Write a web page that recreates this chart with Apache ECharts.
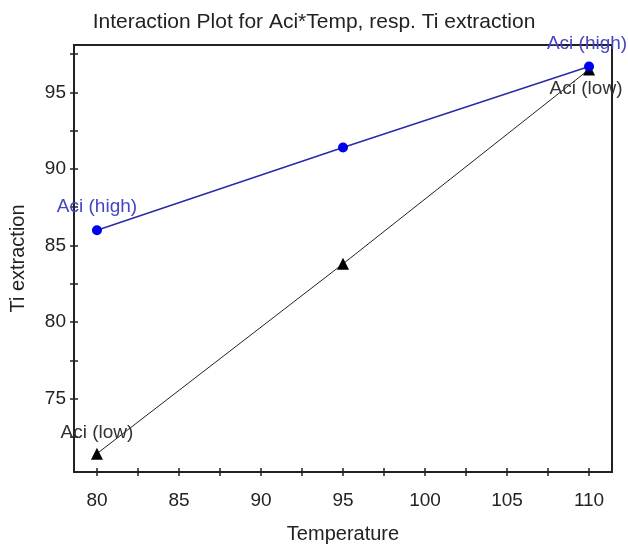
<!DOCTYPE html>
<html>
<head>
<meta charset="utf-8">
<script src="https://cdn.jsdelivr.net/npm/echarts@6/dist/echarts.min.js"></script>
<style>
  html, body { margin: 0; padding: 0; background: #fff; }
  #chart { width: 628px; height: 548px; }
</style>
</head>
<body>
<div id="chart"></div>
<script>
// Temperature levels (x) and mean Ti extraction for each acid level
const temperatures = [80, 95, 110];
const aciHigh = [86.0, 91.4, 96.7];
const aciLow = [71.4, 83.8, 96.5];

// Axis ticks and labels
const xLabelValues = [80, 85, 90, 95, 100, 105, 110];
const xTickValues = [80, 82.5, 85, 87.5, 90, 92.5, 95, 97.5, 100, 102.5, 105, 107.5, 110];
const yLabelValues = [75, 80, 85, 90, 95];
const yTickValues = [72.5, 75, 77.5, 80, 82.5, 85, 87.5, 90, 92.5, 95, 97.5];

// Text shown next to the end points
const highName = 'Aci (high)';
const lowName = 'Aci (low)';

const FONT = '"Liberation Sans", Arial, sans-serif';
const X_MIN = 78.6, X_MAX = 111.4;
const Y_MIN = 70.2, Y_MAX = 98.1;

function pairs(ys) {
  return temperatures.map((t, i) => [t, ys[i]]);
}

// Label only the end points; offset relative to the marker centre
function endLabels(ys, color, offsets) {
  return pairs(ys).map((p, i) => {
    const off = offsets[i];
    return {
      value: p,
      label: off ? {
        show: true, position: 'inside', offset: off,
        color: color, fontSize: 19, fontFamily: FONT
      } : { show: false }
    };
  });
}

function xAxisDef(tickInside, showLabels) {
  return {
    type: 'value', position: 'bottom', min: X_MIN, max: X_MAX,
    name: showLabels ? 'Temperature' : '',
    nameLocation: 'middle', nameGap: 52,
    nameTextStyle: { fontSize: 20, color: '#222', fontFamily: FONT },
    axisLine: { show: true, onZero: false, lineStyle: { color: '#222', width: 2 } },
    axisTick: { show: true, inside: tickInside, length: 4, customValues: xTickValues,
                lineStyle: { color: '#222', width: 1.5 } },
    axisLabel: { show: showLabels, customValues: xLabelValues, margin: 19,
                 fontSize: 19, color: '#222', fontFamily: FONT },
    splitLine: { show: false }
  };
}

function yAxisDef(tickInside, showLabels) {
  return {
    type: 'value', position: 'left', min: Y_MIN, max: Y_MAX,
    name: showLabels ? 'Ti extraction' : '',
    nameLocation: 'middle', nameGap: 46,
    nameTextStyle: { fontSize: 20, color: '#222', fontFamily: FONT },
    axisLine: { show: true, onZero: false, lineStyle: { color: '#222', width: 2 } },
    axisTick: { show: true, inside: tickInside, length: 4, customValues: yTickValues,
                lineStyle: { color: '#222', width: 1.5 } },
    axisLabel: { show: showLabels, customValues: yLabelValues, margin: 8,
                 fontSize: 19, color: '#222', fontFamily: FONT },
    splitLine: { show: false }
  };
}

const chart = echarts.init(document.getElementById('chart'), null, { renderer: 'canvas' });

chart.setOption({
  backgroundColor: '#fff',
  animation: false,
  title: {
    text: 'Interaction Plot for Aci*Temp, resp. Ti extraction',
    left: 'center', top: 7,
    textStyle: { fontSize: 21, fontWeight: 'normal', color: '#222', fontFamily: FONT }
  },
  grid: {
    left: 74, top: 45, right: 16, bottom: 76,
    outerBoundsMode: 'none', containLabel: false,
    show: true, borderColor: '#222', borderWidth: 2, backgroundColor: 'transparent'
  },
  xAxis: [xAxisDef(false, true), xAxisDef(true, false)],
  yAxis: [yAxisDef(false, true), yAxisDef(true, false)],
  series: [
    {
      name: lowName, type: 'line',
      xAxisIndex: 0, yAxisIndex: 0,
      data: endLabels(aciLow, '#333', [[0, -21], null, [-3, 19]]),
      symbol: 'triangle', symbolSize: 12,
      itemStyle: { color: '#000' },
      lineStyle: { color: '#222', width: 1 },
      label: { formatter: () => lowName },
      z: 2
    },
    {
      name: highName, type: 'line',
      xAxisIndex: 0, yAxisIndex: 0,
      data: endLabels(aciHigh, '#4545c4', [[0, -23], null, [-2, -23]]),
      symbol: 'circle', symbolSize: 10,
      itemStyle: { color: '#0000ee' },
      lineStyle: { color: '#2a2aa8', width: 1.5 },
      label: { formatter: () => highName },
      z: 3
    }
  ]
});
</script>
</body>
</html>
